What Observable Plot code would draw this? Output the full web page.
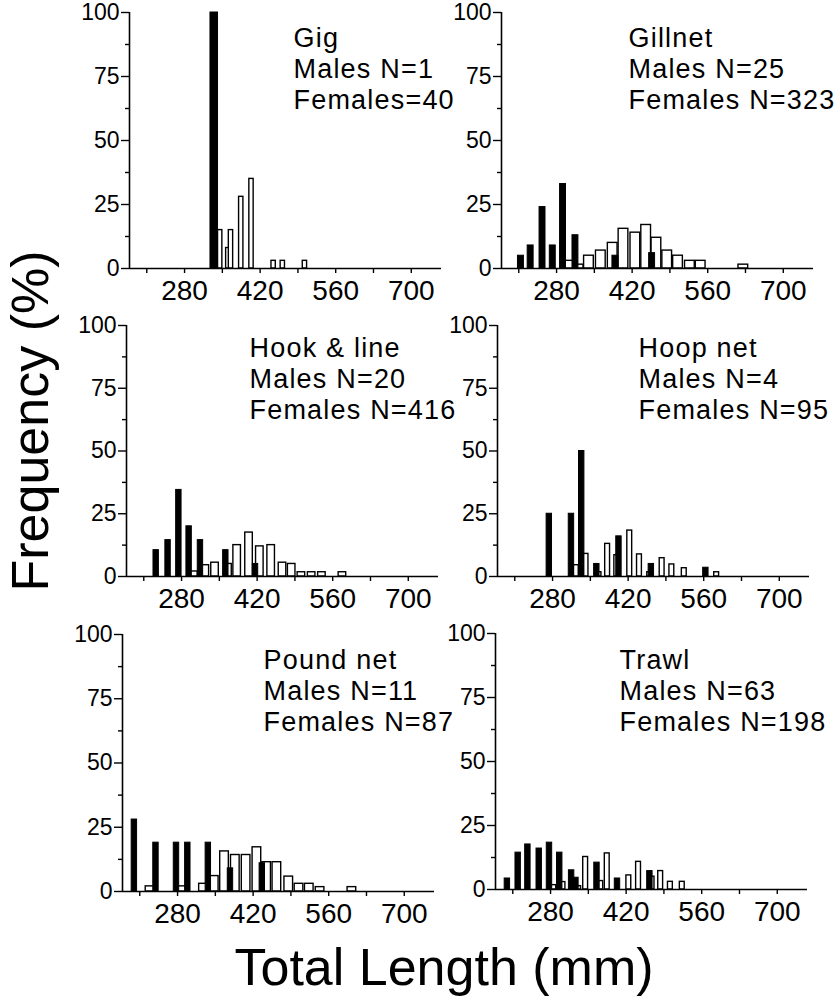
<!DOCTYPE html>
<html>
<head>
<meta charset="utf-8">
<script src="https://cdn.jsdelivr.net/npm/d3@7"></script>
<script src="https://cdn.jsdelivr.net/npm/@observablehq/plot@0.6"></script>
<style>
  body { margin: 0; background: #fff; }
  #wrap { position: relative; width: 839px; height: 996px; overflow: hidden; background: #fff;
          font-family: "Liberation Sans", Arial, sans-serif; color: #000; }
  .panel { position: absolute; }
  .biglab { position: absolute; font-size: 52px; line-height: 52px; height: 52px; text-align: center; white-space: nowrap; }
</style>
</head>
<body>
<div id="wrap"></div>
<script>
// ---------------- data ----------------
const lengthTicks = [210, 280, 350, 420, 490, 560, 630, 700];
const lengthLabels = [280, 420, 560, 700];
const freqTicks = [0, 25, 50, 75, 100];
const freqMinorTicks = [12.5, 37.5, 62.5, 87.5];
const yLabel = "Frequency (%)";
const xLabel = "Total Length (mm)";

// Gig
const gigTitle = ["Gig", "Males N=1", "Females=40"];
const gigMaleLen = [335];
const gigMalePct = [100];
const gigFemaleLen = [346, 361, 366, 385, 404, 445, 462, 503];
const gigFemalePct = [15, 8, 15, 28, 35, 3, 3, 3];

// Gillnet
const gillTitle = ["Gillnet", "Males N=25", "Females N=323"];
const gillMaleLen = [214, 232, 254, 273, 292, 315, 389, 457];
const gillMalePct = [5, 9, 24, 9, 33, 13, 5, 6];
const gillFemaleLen = [306, 321, 340, 362, 384, 404, 426, 446, 465, 485, 505, 527, 547, 626];
const gillFemalePct = [3, 1.5, 5, 7, 10, 15.5, 14, 17, 12, 7, 5, 3, 3, 1.5];

// Hook & line
const hookTitle = ["Hook & line", "Males N=20", "Females N=416"];
const hookMaleLen = [233, 255, 275, 294, 315, 362, 417];
const hookMalePct = [10.5, 14.5, 34.5, 20, 14.5, 10.5, 5];
const hookFemaleLen = [303, 324, 342, 366, 383, 405, 425, 446, 467, 484, 502, 521, 540, 578];
const hookFemalePct = [2, 4.5, 5.5, 5, 12.5, 17.5, 12, 12.5, 5.5, 5, 1.7, 1.7, 1.7, 1.7];

// Hoop net
const hoopTitle = ["Hoop net", "Males N=4", "Females N=95"];
const hoopMaleLen = [274, 315, 334, 362, 403, 463, 564];
const hoopMalePct = [25, 25, 50, 5, 16, 5, 3.5];
const hoopFemaleLen = [324, 342, 366, 382, 399, 423, 441, 460, 483, 501, 524, 584];
const hoopFemalePct = [4.5, 9, 1.7, 13, 8.5, 18.3, 8.8, 1.7, 7.3, 4.8, 3.3, 1.7];

// Pound net
const poundTitle = ["Pound net", "Males N=11", "Females N=87"];
const poundMaleLen = [200, 240, 278, 299, 337, 378, 437];
const poundMalePct = [28, 19, 19, 19, 19, 9, 11];
const poundFemaleLen = [229, 288, 328, 348, 367, 387, 407, 427, 445, 464, 486, 505, 524, 544, 603];
const poundFemalePct = [2, 2, 3, 6, 15.6, 14.2, 14.2, 17.2, 11.4, 11.4, 5.8, 3, 3, 1.7, 1.7];

// Trawl
const trawlTitle = ["Trawl", "Males N=63", "Females N=198"];
const trawlMaleLen = [200, 220, 238, 259, 278, 297, 319, 327, 366, 404, 464];
const trawlMalePct = [4.3, 14.4, 17.6, 16, 18.3, 14.4, 7.5, 4.6, 10.5, 4.3, 7.2];
const trawlFemaleLen = [286, 303, 332, 345, 373, 385, 425, 443, 468, 484, 502, 524];
const trawlFemalePct = [1.7, 2.9, 1.3, 12.7, 3.3, 14.1, 5.5, 10.8, 5, 7.2, 3, 3];

// ---------------- layout ----------------
const xDomain = [178, 756];
const innerW = 312;
const ML = 70, MR = 20, MT = 16, MB = 50;
const FONT = "'Liberation Sans', Arial, sans-serif";

const panels = [
  {title: gigTitle, mL: gigMaleLen, mP: gigMalePct, fL: gigFemaleLen, fP: gigFemalePct,
   axisX: 129, top: 11.7, h: 256, textX: 293, textCap: 24, mW: 14, fW: 8},
  {title: gillTitle, mL: gillMaleLen, mP: gillMalePct, fL: gillFemaleLen, fP: gillFemalePct,
   axisX: 501, top: 11.7, h: 256, textX: 628, textCap: 24, mW: 11, fW: 18},
  {title: hookTitle, mL: hookMaleLen, mP: hookMalePct, fL: hookFemaleLen, fP: hookFemalePct,
   axisX: 126, top: 325, h: 251, textX: 249, textCap: 334, mW: 10, fW: 14},
  {title: hoopTitle, mL: hoopMaleLen, mP: hoopMalePct, fL: hoopFemaleLen, fP: hoopFemalePct,
   axisX: 497, top: 325, h: 251, textX: 638, textCap: 334, mW: 10, fW: 9},
  {title: poundTitle, mL: poundMaleLen, mP: poundMalePct, fL: poundFemaleLen, fP: poundFemalePct,
   axisX: 122, top: 634, h: 257, textX: 263, textCap: 646, mW: 10, fW: 16},
  {title: trawlTitle, mL: trawlMaleLen, mP: trawlMalePct, fL: trawlFemaleLen, fP: trawlFemalePct,
   axisX: 495, top: 633, h: 256, textX: 619, textCap: 646, mW: 10, fW: 9}
];

const wrap = document.getElementById("wrap");

for (const p of panels) {
  const males = p.mL.map((len, i) => ({len, pct: p.mP[i]}));
  const females = p.fL.map((len, i) => ({len, pct: p.fP[i]}));
  const mW = p.mW, fW = p.fW;
  const svg = Plot.plot({
    width: ML + innerW + MR,
    height: MT + p.h + MB,
    marginLeft: ML, marginRight: MR, marginTop: MT, marginBottom: MB,
    style: {background: "transparent", overflow: "visible", maxWidth: "none", fontFamily: FONT, color: "#000"},
    x: {type: "linear", domain: xDomain, axis: null},
    y: {type: "linear", domain: [0, 100], axis: null},
    marks: [
      Plot.rect(females, {x1: d => d.len - fW / 2, x2: d => d.len + fW / 2, y1: 0, y2: "pct",
        fill: "white", stroke: "black", strokeWidth: 1.4}),
      Plot.rect(males, {x1: d => d.len - mW / 2, x2: d => d.len + mW / 2, y1: 0, y2: "pct",
        fill: "black", stroke: "black", strokeWidth: 1}),
      Plot.ruleY([0], {stroke: "black", strokeWidth: 1.6}),
      Plot.ruleX([xDomain[0]], {y1: 0, y2: 100, stroke: "black", strokeWidth: 1.6}),
      Plot.axisY({ticks: freqTicks, tickSize: 8, tickPadding: 2, fontSize: 23, label: null,
        tickFormat: d => String(d), stroke: "black", strokeWidth: 1.4}),
      Plot.axisY({ticks: freqMinorTicks, tickSize: 4, tickPadding: 2, label: null,
        tickFormat: () => "", stroke: "black", strokeWidth: 1.4}),
      Plot.axisX({ticks: lengthTicks, tickSize: 5, tickPadding: 7, fontSize: 28, label: null,
        tickFormat: d => lengthLabels.includes(d) ? String(d) : "", stroke: "black", strokeWidth: 1.4}),
      Plot.text([p.title.join("\n")], {frameAnchor: "top-left", textAnchor: "start", lineAnchor: "top",
        dx: p.textX - p.axisX, dy: p.textCap - p.top, fontSize: 27, lineHeight: 31 / 27, fill: "black"})
    ]
  });
  d3.select(svg).selectAll("g[aria-label='text'] text").attr("letter-spacing", "1.2px");
  d3.select(svg).selectAll("text").attr("fill", "black");
  const div = document.createElement("div");
  div.className = "panel";
  div.style.left = (p.axisX - ML) + "px";
  div.style.top = (p.top - MT) + "px";
  div.appendChild(svg);
  wrap.appendChild(div);
}

// big axis labels
const yl = document.createElement("div");
yl.className = "biglab";
yl.textContent = yLabel;
yl.style.width = "400px";
yl.style.left = (30 - 200) + "px";
yl.style.top = (421 - 26) + "px";
yl.style.transform = "rotate(-90deg)";
wrap.appendChild(yl);

const xl = document.createElement("div");
xl.className = "biglab";
xl.textContent = xLabel;
xl.style.width = "600px";
xl.style.left = (444 - 300) + "px";
xl.style.top = "941px";
wrap.appendChild(xl);
</script>
</body>
</html>
